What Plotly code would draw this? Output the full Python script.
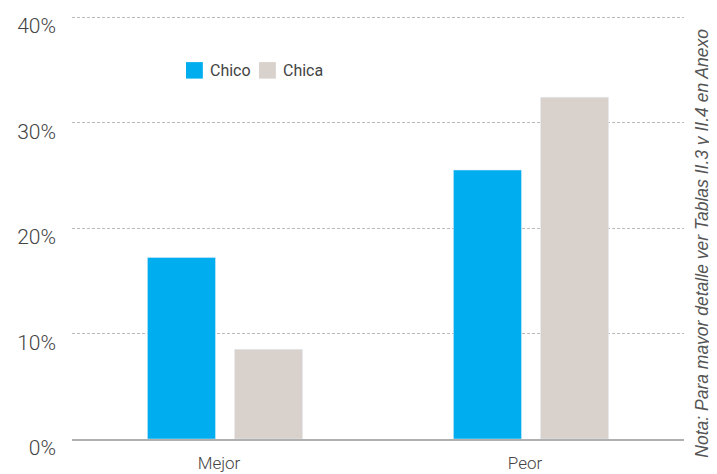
import plotly.graph_objects as go

categorias = ["Mejor", "Peor"]
chico = [17.2, 25.5]
chica = [8.5, 32.4]
series = ["Chico", "Chica"]
colores = ["#00AEEF", "#D9D1CB"]
y_ticks = [0, 10, 20, 30, 40]
y_labels = ["0%", "10%", "20%", "30%", "40%"]
nota = "Nota: Para mayor detalle ver Tablas II.3 y II.4 en Anexo"

fig = go.Figure()
fig.add_trace(go.Bar(x=categorias, y=chico, name=series[0], marker_color=colores[0]))
fig.add_trace(go.Bar(x=categorias, y=chica, name=series[1], marker_color=colores[1]))

# leyenda a mano (cuadros + texto), como en el original
leg_x = [0.1863, 0.3056]
for nombre, color, x0 in zip(series, colores, leg_x):
    fig.add_shape(type="rect", xref="paper", yref="paper",
                  x0=x0, x1=x0 + 0.0275, y0=0.852, y1=0.891,
                  fillcolor=color, line_width=0)
    fig.add_annotation(text=nombre, xref="paper", yref="paper",
                       x=x0 + 0.036, y=0.871, xanchor="left", yanchor="middle",
                       showarrow=False, font=dict(size=16, color="#444"))

fig.add_annotation(
    text=nota, textangle=-90, xref="paper", yref="paper",
    x=1.028, y=0.462, xanchor="center", yanchor="middle", showarrow=False,
    font=dict(size=17.5, color="#555", family="Liberation Sans", style="italic"),
)

fig.update_layout(
    width=717, height=474,
    margin=dict(l=64, r=41, t=8, b=43),
    plot_bgcolor="white", paper_bgcolor="white",
    font=dict(family="Roboto", color="#444"),
    showlegend=False,
    barmode="group", bargap=0.431, bargroupgap=0.218,
    xaxis=dict(showline=True, linecolor="#b0b0b0", linewidth=1.5, ticks="",
               ticklabelstandoff=8, ticklabelshift=-6, automargin=False,
               tickfont=dict(size=17, color="#444", weight=300)),
    yaxis=dict(range=[0, 40.1], tickvals=y_ticks, ticktext=y_labels,
               showgrid=True, gridcolor="#bbbbbb", griddash="3px,2px", gridwidth=1,
               zeroline=False, ticks="", ticklabelstandoff=15, ticklabelshift=9,
               ticklabeloverflow="allow", automargin=False,
               tickfont=dict(size=21, color="#444", weight=300)),
)

fig.write_html("out.html")
